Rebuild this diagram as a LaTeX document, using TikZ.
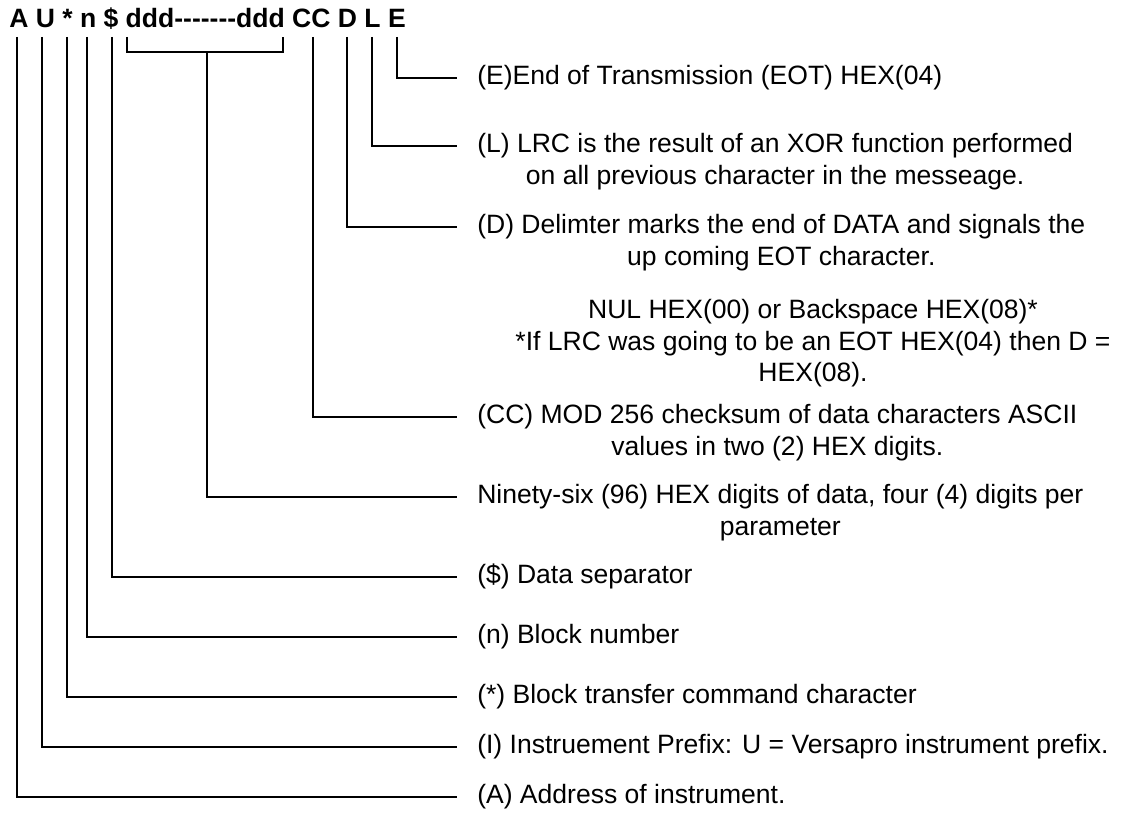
\documentclass[tikz,border=0pt]{standalone}
\usepackage{fontspec}
\setmainfont{Liberation Sans}[Ligatures=TeXOff]
\usetikzlibrary{positioning}

\tikzset{
  wire/.style={line width=1pt},
  desc/.style={anchor=west, inner xsep=15pt, inner ysep=0pt,
    text height=14.5pt, text depth=4.2pt,
    font=\fontsize{19.9pt}{23.25pt}\selectfont},
}

\begin{document}
\begin{tikzpicture}[x=0.75pt, y=-0.75pt, node distance=4.5pt]
\useasboundingbox (0,0) rectangle (1121,813);
\node [anchor=base west, inner sep=0pt, font=\bfseries\fontsize{19.9pt}{23.25pt}\selectfont] (msg) at (9,28) {A U * n \$ ddd-------ddd CC D L E};
\coordinate (cA) at (17,37);
\coordinate (cU) at (42,37);
\coordinate (cStar) at (67,37);
\coordinate (cN) at (87,37);
\coordinate (cDol) at (112,37);
\coordinate (cDl) at (127,37);
\coordinate (cDm) at (207,52);
\coordinate (cDr) at (283,37);
\coordinate (cCC) at (313,37);
\coordinate (cD) at (347,37);
\coordinate (cL) at (372,37);
\coordinate (cE) at (397,37);
\node [desc] (lE) at (457,78) {(E)End of Transmission (EOT) HEX(04)};
\node [desc] (lL) at (457,146) {(L) LRC is the result of an XOR function performed};
\node [desc, below = of lL] (lL2) {on all previous character in the messeage.};
\node [desc] (lD) at (457,227) {(D) Delimter marks the end of DATA and signals the};
\node [desc, below = of lD] (lD2) {up coming EOT character.};
\node [desc, anchor=center] (nul1) at (813,312) {NUL HEX(00) or Backspace HEX(08)*};
\node [desc, below = of nul1] (nul2) {*If LRC was going to be an EOT HEX(04) then D =};
\node [desc, below = of nul2] (nul3) {HEX(08).};
\node [desc] (lCC) at (457,417) {(CC) MOD 256 checksum of data characters ASCII};
\node [desc, below = of lCC] (lCC2) {values in two (2) HEX digits.};
\node [desc] (lData) at (457,497) {Ninety-six (96) HEX digits of data, four (4) digits per};
\node [desc, below = of lData] (lData2) {parameter};
\node [desc] (lDol) at (457,577) {(\$) Data separator};
\node [desc] (lN) at (457,637) {(n) Block number};
\node [desc] (lStar) at (457,697) {(*) Block transfer command character};
\node [desc] (lU) at (457,747) {(I) Instruement Prefix: U = Versapro instrument prefix.};
\node [desc] (lA) at (457,797) {(A) Address of instrument.};
\draw [wire]
  (cE) |- (lE.west)
  (cL) |- (lL.west)
  (cD) |- (lD.west)
  (cCC) |- (lCC.west)
  (cDl) |- (cDm) -| (cDr)
  (cDm) |- (lData.west)
  (cDol) |- (lDol.west)
  (cN) |- (lN.west)
  (cStar) |- (lStar.west)
  (cU) |- (lU.west)
  (cA) |- (lA.west);
\end{tikzpicture}
\end{document}
